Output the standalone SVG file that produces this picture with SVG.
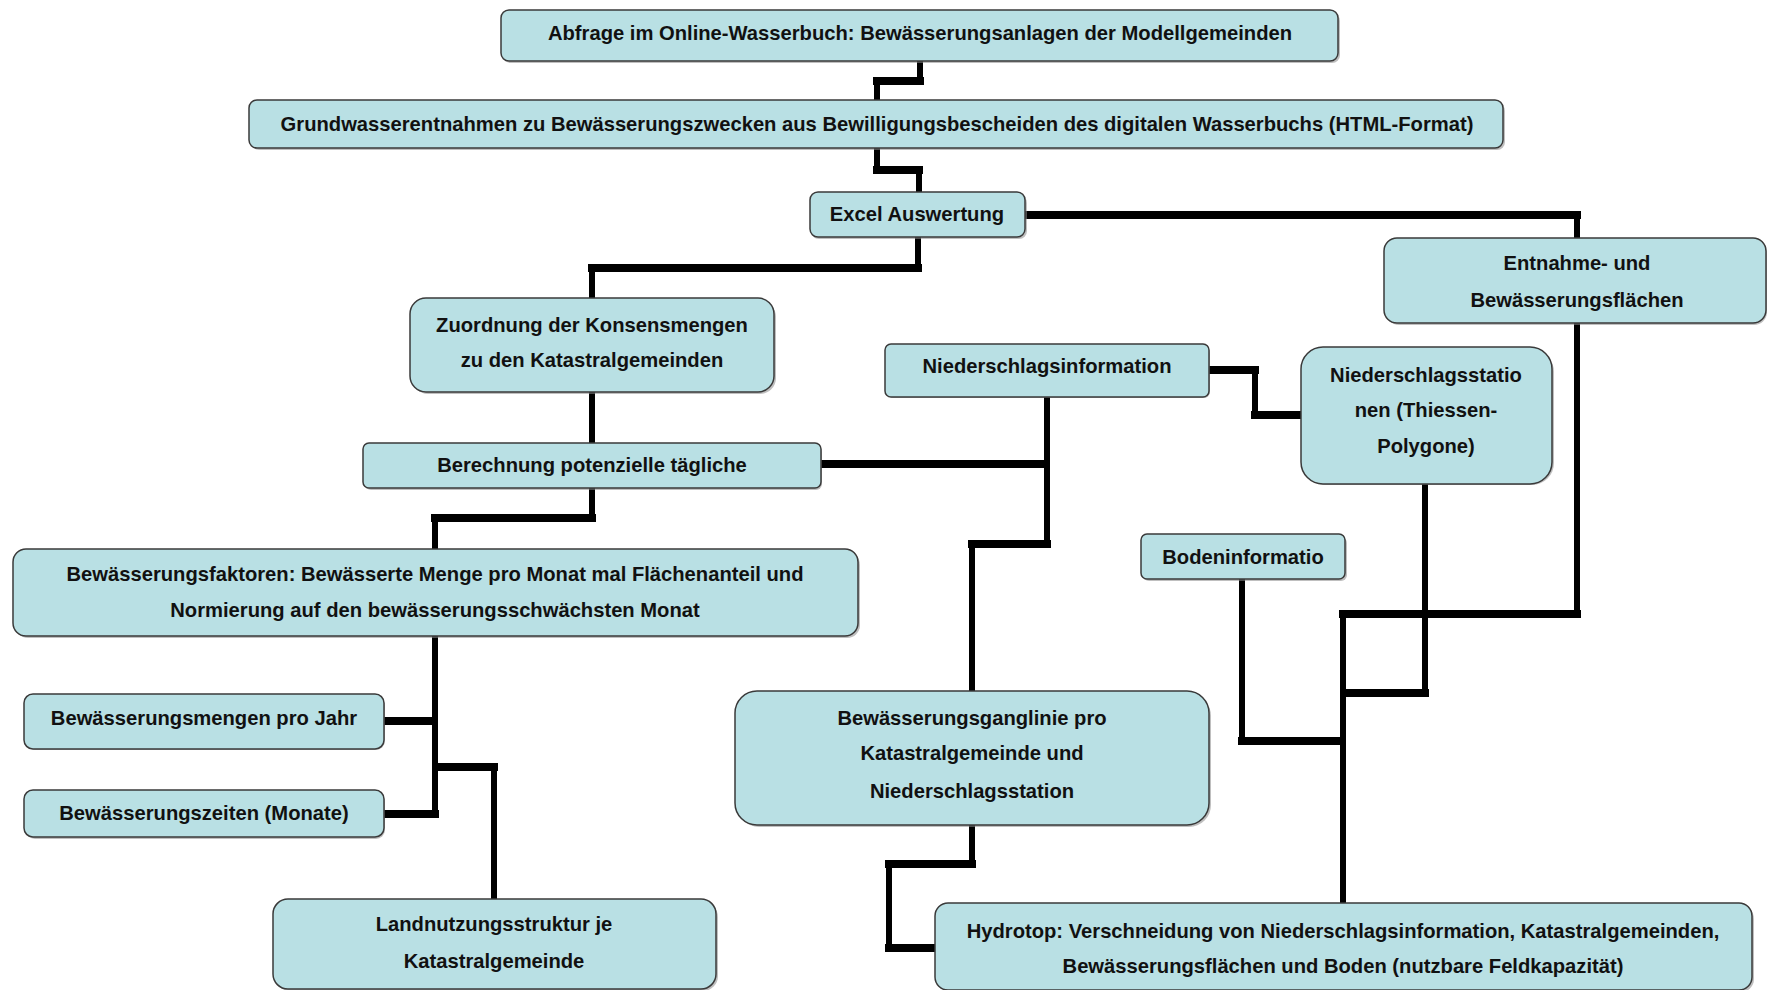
<svg xmlns="http://www.w3.org/2000/svg" width="1767" height="990" viewBox="0 0 1767 990">
<style>
  .bg{fill:#ffffff}
  .sh{fill:#8a8a8a;opacity:.55}
  .bx{fill:#b9e0e4;stroke:#3a3a3a;stroke-width:1.5}
  .t{font-family:"Liberation Sans",Arial,sans-serif;font-weight:bold;font-size:20.2px;fill:#111;text-anchor:middle}
  .h{stroke:#000;stroke-width:8;stroke-linecap:square;fill:none}
  .v{stroke:#000;stroke-width:6;stroke-linecap:square;fill:none}
</style>
<rect class="bg" x="0" y="0" width="1767" height="990"/>
<g id="connectors">
  <line class="v" x1="920" y1="61" x2="920" y2="81"/>
  <line class="h" x1="920" y1="81" x2="877" y2="81"/>
  <line class="v" x1="877" y1="81" x2="877" y2="100"/>

  <line class="v" x1="877" y1="148" x2="877" y2="170"/>
  <line class="h" x1="877" y1="170" x2="919" y2="170"/>
  <line class="v" x1="919" y1="170" x2="919" y2="192"/>

  <line class="h" x1="1025" y1="215" x2="1577" y2="215"/>
  <line class="v" x1="1577" y1="215" x2="1577" y2="238"/>

  <line class="v" x1="918" y1="238" x2="918" y2="268"/>
  <line class="h" x1="918" y1="268" x2="592" y2="268"/>
  <line class="v" x1="592" y1="268" x2="592" y2="298"/>

  <line class="v" x1="592" y1="392" x2="592" y2="443"/>

  <line class="h" x1="1209" y1="370" x2="1255" y2="370"/>
  <line class="v" x1="1255" y1="370" x2="1255" y2="415"/>
  <line class="h" x1="1255" y1="415" x2="1300" y2="415"/>

  <line class="v" x1="1047" y1="397" x2="1047" y2="544"/>
  <line class="h" x1="1047" y1="544" x2="972" y2="544"/>
  <line class="v" x1="972" y1="544" x2="972" y2="691"/>
  <line class="h" x1="821" y1="464" x2="1046" y2="464"/>

  <line class="v" x1="592" y1="488" x2="592" y2="518"/>
  <line class="h" x1="592" y1="518" x2="435" y2="518"/>
  <line class="v" x1="435" y1="518" x2="435" y2="549"/>

  <line class="v" x1="435" y1="636" x2="435" y2="814"/>
  <line class="h" x1="435" y1="814" x2="384" y2="814"/>
  <line class="h" x1="384" y1="721" x2="434" y2="721"/>
  <line class="h" x1="436" y1="767" x2="494" y2="767"/>
  <line class="v" x1="494" y1="767" x2="494" y2="898"/>

  <line class="v" x1="1425" y1="484" x2="1425" y2="693"/>
  <line class="h" x1="1425" y1="693" x2="1344" y2="693"/>

  <line class="v" x1="1577" y1="323" x2="1577" y2="614"/>
  <line class="h" x1="1577" y1="614" x2="1343" y2="614"/>
  <line class="v" x1="1343" y1="614" x2="1343" y2="903"/>

  <line class="v" x1="1242" y1="579" x2="1242" y2="741"/>
  <line class="h" x1="1242" y1="741" x2="1342" y2="741"/>

  <line class="v" x1="972" y1="825" x2="972" y2="864"/>
  <line class="h" x1="972" y1="864" x2="889" y2="864"/>
  <line class="v" x1="889" y1="864" x2="889" y2="948"/>
  <line class="h" x1="889" y1="948" x2="935" y2="948"/>
</g>

<g id="n1">
  <rect class="sh" x="503" y="13" width="837" height="50" rx="8"/>
  <rect class="bx" x="501" y="10" width="837" height="51" rx="8"/>
  <text class="t" x="920" y="40">Abfrage im Online-Wasserbuch: Bewässerungsanlagen der Modellgemeinden</text>
</g>
<g id="n2">
  <rect class="sh" x="251" y="103" width="1254" height="47" rx="8"/>
  <rect class="bx" x="249" y="100" width="1254" height="48" rx="8"/>
  <text class="t" x="877" y="131">Grundwasserentnahmen zu Bewässerungszwecken aus Bewilligungsbescheiden des digitalen Wasserbuchs (HTML-Format)</text>
</g>
<g id="n3">
  <rect class="sh" x="811" y="195" width="216" height="44" rx="8"/>
  <rect class="bx" x="810" y="192" width="215" height="45" rx="8"/>
  <text class="t" x="917" y="221">Excel Auswertung</text>
</g>
<g id="n4">
  <rect class="sh" x="1386" y="241" width="381" height="84" rx="13"/>
  <rect class="bx" x="1384" y="238" width="382" height="85" rx="13"/>
  <text class="t" x="1577" y="270">Entnahme- und</text>
  <text class="t" x="1577" y="307">Bewässerungsflächen</text>
</g>
<g id="n5">
  <rect class="sh" x="412" y="301" width="364" height="93" rx="16"/>
  <rect class="bx" x="410" y="298" width="364" height="94" rx="16"/>
  <text class="t" x="592" y="332">Zuordnung der Konsensmengen</text>
  <text class="t" x="592" y="367">zu den Katastralgemeinden</text>
</g>
<g id="n6">
  <rect class="sh" x="887" y="347" width="323" height="51" rx="6"/>
  <rect class="bx" x="885" y="344" width="324" height="53" rx="6"/>
  <text class="t" x="1047" y="373">Niederschlagsinformation</text>
</g>
<g id="n7">
  <rect class="sh" x="1303" y="350" width="251" height="135" rx="22"/>
  <rect class="bx" x="1301" y="347" width="251" height="137" rx="22"/>
  <text class="t" x="1426" y="382">Niederschlagsstatio</text>
  <text class="t" x="1426" y="417">nen (Thiessen-</text>
  <text class="t" x="1426" y="453">Polygone)</text>
</g>
<g id="n8">
  <rect class="sh" x="365" y="446" width="457" height="44" rx="6"/>
  <rect class="bx" x="363" y="443" width="458" height="45" rx="6"/>
  <text class="t" x="592" y="472">Berechnung potenzielle tägliche</text>
</g>
<g id="n9">
  <rect class="sh" x="15" y="552" width="845" height="86" rx="13"/>
  <rect class="bx" x="13" y="549" width="845" height="87" rx="13"/>
  <text class="t" x="435" y="581">Bewässerungsfaktoren: Bewässerte Menge pro Monat mal Flächenanteil und</text>
  <text class="t" x="435" y="617">Normierung auf den bewässerungsschwächsten Monat</text>
</g>
<g id="n10">
  <rect class="sh" x="1143" y="537" width="204" height="44" rx="6"/>
  <rect class="bx" x="1141" y="534" width="204" height="45" rx="6"/>
  <text class="t" x="1243" y="564">Bodeninformatio</text>
</g>
<g id="n11">
  <rect class="sh" x="26" y="697" width="359" height="53" rx="9"/>
  <rect class="bx" x="24" y="694" width="360" height="55" rx="9"/>
  <text class="t" x="204" y="725">Bewässerungsmengen pro Jahr</text>
</g>
<g id="n12">
  <rect class="sh" x="26" y="793" width="359" height="46" rx="9"/>
  <rect class="bx" x="24" y="790" width="360" height="47" rx="9"/>
  <text class="t" x="204" y="820">Bewässerungszeiten (Monate)</text>
</g>
<g id="n13">
  <rect class="sh" x="275" y="902" width="443" height="89" rx="15"/>
  <rect class="bx" x="273" y="899" width="443" height="90" rx="15"/>
  <text class="t" x="494" y="931">Landnutzungsstruktur je</text>
  <text class="t" x="494" y="968">Katastralgemeinde</text>
</g>
<g id="n14">
  <rect class="sh" x="737" y="694" width="474" height="133" rx="22"/>
  <rect class="bx" x="735" y="691" width="474" height="134" rx="22"/>
  <text class="t" x="972" y="725">Bewässerungsganglinie pro</text>
  <text class="t" x="972" y="760">Katastralgemeinde und</text>
  <text class="t" x="972" y="798">Niederschlagsstation</text>
</g>
<g id="n15">
  <rect class="sh" x="937" y="906" width="817" height="86" rx="13"/>
  <rect class="bx" x="935" y="903" width="817" height="87" rx="13"/>
  <text class="t" x="1343" y="938">Hydrotop: Verschneidung von Niederschlagsinformation, Katastralgemeinden,</text>
  <text class="t" x="1343" y="973">Bewässerungsflächen und Boden (nutzbare Feldkapazität)</text>
</g>
</svg>
